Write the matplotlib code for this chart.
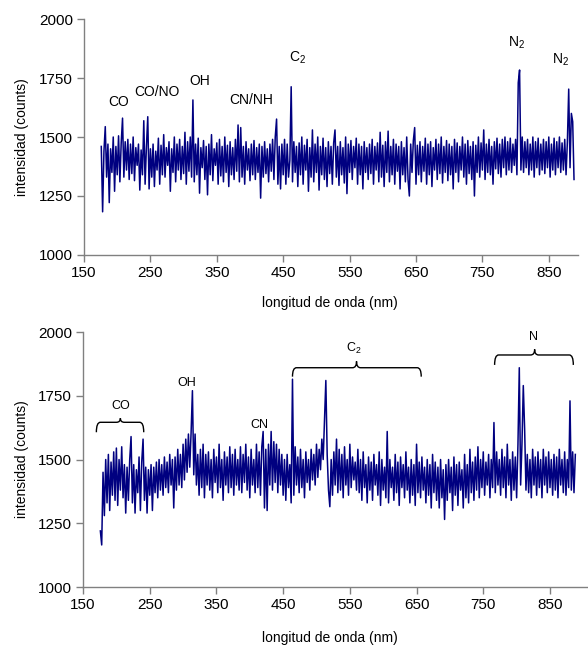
import numpy as np
import matplotlib
matplotlib.use("Agg")
import matplotlib.pyplot as plt
from matplotlib.path import Path
from matplotlib.patches import PathPatch

plt.rcParams['font.family'] = ['Liberation Sans', 'DejaVu Sans']
plt.rcParams['mathtext.fontset'] = 'custom'
plt.rcParams['mathtext.rm'] = 'Liberation Sans'
plt.rcParams['mathtext.it'] = 'Liberation Sans:italic'

# wavelength grid (nm), both spectra sampled every 2 nm
wl_start = 176
wl_step = 2

# spectrum 1 (top), counts
spec_top = [
    1460, 1183, 1440, 1544, 1330, 1470, 1222, 1450, 1350, 1500, 1270, 1460, 1340, 1505, 1310, 1475, 1580, 1330, 1480, 1360,
    1490, 1320, 1470, 1345, 1500, 1315, 1455, 1380, 1470, 1275, 1445, 1340, 1569, 1300, 1460, 1586, 1280, 1450, 1330, 1470,
    1290, 1440, 1360, 1495, 1300, 1465, 1340, 1510, 1330, 1455, 1380, 1480, 1270, 1450, 1350, 1500, 1310, 1470, 1360, 1490,
    1320, 1460, 1345, 1520, 1300, 1480, 1355, 1500, 1330, 1657, 1310, 1470, 1340, 1495, 1262, 1455, 1370, 1485, 1320, 1460,
    1255, 1470, 1340, 1510, 1315, 1450, 1380, 1475, 1300, 1490, 1335, 1460, 1310, 1500, 1350, 1465, 1290, 1480, 1340, 1455,
    1320, 1490, 1355, 1551, 1310, 1540, 1330, 1460, 1300, 1480, 1360, 1450, 1315, 1470, 1340, 1485, 1320, 1455, 1350, 1470,
    1241, 1460, 1330, 1480, 1345, 1450, 1310, 1470, 1355, 1490, 1320, 1500, 1576, 1300, 1460, 1280, 1470, 1340, 1490, 1300,
    1470, 1330, 1400, 1713, 1310, 1480, 1350, 1460, 1290, 1475, 1340, 1500, 1300, 1465, 1360, 1490, 1270, 1455, 1330, 1530,
    1310, 1470, 1350, 1500, 1275, 1460, 1340, 1495, 1320, 1455, 1290, 1480, 1345, 1460, 1300, 1475, 1530, 1330, 1460, 1295,
    1480, 1340, 1455, 1305, 1500, 1260, 1470, 1350, 1485, 1320, 1460, 1370, 1495, 1300, 1470, 1340, 1460, 1280, 1480, 1350,
    1455, 1320, 1470, 1345, 1490, 1300, 1460, 1360, 1475, 1310, 1520, 1330, 1465, 1290, 1480, 1350, 1525, 1310, 1460, 1340,
    1490, 1300, 1470, 1355, 1460, 1280, 1480, 1340, 1455, 1310, 1500, 1320, 1250, 1470, 1350, 1485, 1540, 1300, 1465, 1340,
    1480, 1310, 1460, 1355, 1495, 1300, 1470, 1340, 1480, 1290, 1455, 1360, 1490, 1320, 1470, 1345, 1500, 1305, 1460, 1350,
    1485, 1315, 1470, 1340, 1460, 1280, 1490, 1350, 1475, 1310, 1460, 1360, 1500, 1330, 1470, 1300, 1485, 1345, 1460, 1320,
    1480, 1250, 1465, 1350, 1500, 1330, 1475, 1360, 1530, 1320, 1470, 1350, 1490, 1340, 1460, 1300, 1480, 1365, 1495, 1345,
    1470, 1330, 1490, 1370, 1500, 1340, 1480, 1360, 1495, 1350, 1470, 1380, 1490, 1340, 1730, 1784, 1360, 1500, 1350, 1480,
    1370, 1490, 1340, 1470, 1360, 1500, 1330, 1480, 1370, 1495, 1340, 1470, 1360, 1490, 1345, 1480, 1370, 1500, 1330, 1470,
    1360, 1495, 1340, 1480, 1370, 1500, 1350, 1475, 1360, 1490, 1340, 1480, 1703, 1370, 1600, 1565, 1320,
]

# spectrum 2 (bottom), counts
spec_bot = [
    1220, 1165, 1450, 1280, 1500, 1330, 1520, 1300, 1490, 1360, 1530, 1340, 1545, 1320, 1500, 1380, 1550, 1350, 1480, 1290,
    1470, 1340, 1500, 1590, 1330, 1480, 1290, 1460, 1370, 1510, 1300, 1490, 1580, 1340, 1470, 1290, 1460, 1360, 1480, 1300,
    1470, 1370, 1490, 1350, 1500, 1380, 1480, 1360, 1510, 1390, 1490, 1370, 1520, 1400, 1500, 1310, 1510, 1380, 1540, 1400,
    1520, 1390, 1560, 1420, 1580, 1450, 1600, 1470, 1605, 1770, 1440, 1600, 1400, 1520, 1360, 1540, 1390, 1560, 1350, 1520,
    1400, 1530, 1380, 1500, 1350, 1540, 1410, 1510, 1370, 1560, 1390, 1500, 1340, 1530, 1400, 1510, 1370, 1550, 1390, 1520,
    1360, 1540, 1400, 1500, 1380, 1550, 1370, 1520, 1410, 1560, 1380, 1510, 1350, 1540, 1400, 1500, 1370, 1560, 1390, 1530,
    1360, 1550, 1610, 1310, 1540, 1300, 1560, 1400, 1610, 1380, 1570, 1410, 1560, 1370, 1540, 1400, 1520, 1360, 1500, 1340,
    1520, 1390, 1480, 1330, 1815, 1360, 1550, 1400, 1510, 1370, 1540, 1390, 1500, 1350, 1530, 1410, 1500, 1380, 1540, 1420,
    1520, 1400, 1560, 1430, 1540, 1460, 1580, 1500, 1655, 1810, 1520, 1380, 1315, 1500, 1360, 1530, 1400, 1580, 1370, 1540,
    1380, 1520, 1350, 1550, 1400, 1500, 1360, 1560, 1390, 1510, 1420, 1490, 1380, 1540, 1370, 1500, 1340, 1530, 1390, 1480,
    1330, 1510, 1380, 1490, 1340, 1520, 1400, 1480, 1360, 1530, 1320, 1500, 1380, 1470, 1350, 1610, 1330, 1500, 1390, 1470,
    1340, 1520, 1370, 1490, 1320, 1510, 1390, 1480, 1350, 1530, 1380, 1470, 1330, 1500, 1360, 1480, 1320, 1560, 1370, 1490,
    1350, 1510, 1380, 1470, 1330, 1500, 1360, 1480, 1310, 1520, 1370, 1490, 1340, 1470, 1310, 1500, 1350, 1460, 1265, 1480,
    1340, 1500, 1370, 1470, 1300, 1510, 1360, 1480, 1320, 1490, 1380, 1460, 1310, 1520, 1350, 1480, 1330, 1540, 1370, 1490,
    1340, 1510, 1380, 1550, 1350, 1500, 1390, 1530, 1360, 1490, 1400, 1520, 1350, 1500, 1390, 1645, 1370, 1530, 1400, 1500,
    1360, 1540, 1390, 1510, 1350, 1560, 1400, 1500, 1340, 1530, 1380, 1510, 1350, 1560, 1860, 1400, 1560, 1790, 1620, 1380,
    1520, 1370, 1500, 1350, 1540, 1400, 1510, 1360, 1530, 1390, 1500, 1350, 1540, 1400, 1510, 1370, 1530, 1390, 1500, 1360,
    1520, 1380, 1510, 1350, 1540, 1400, 1500, 1370, 1530, 1360, 1500, 1390, 1730, 1380, 1530, 1370, 1520,
]

# band labels
top_labels = ['CO', 'CO/NO', 'OH', 'CN/NH', 'C$_2$', 'N$_2$', 'N$_2$']
top_label_x = [202, 260, 325, 402, 471, 802, 867]
top_label_y = [1650, 1692, 1737, 1657, 1836, 1901, 1829]

bot_labels = ['CO', 'OH', 'CN', 'C$_2$', 'N']
bot_label_x = [206, 305, 414, 556, 825]
bot_label_y = [1711, 1799, 1635, 1937, 1979]

# braces: start, end, middle, end height, line height, tip height
braces = [
    (170, 241, 206, 1607, 1646, 1662),
    (464, 657, 560, 1825, 1860, 1885),
    (767, 885, 827, 1871, 1910, 1932),
]

line_color = '#000080'
axis_color = '#808080'


def brace(ax, x0, x1, xm, yend, yline, ytip, dx=6):
    verts = [(x0, yend), (x0, yline), (x0 + dx, yline),
             (xm - dx, yline), (xm, yline), (xm, ytip),
             (xm, yline), (xm + dx, yline),
             (x1 - dx, yline), (x1, yline), (x1, yend)]
    codes = [Path.MOVETO, Path.CURVE3, Path.CURVE3,
             Path.LINETO, Path.CURVE3, Path.CURVE3,
             Path.CURVE3, Path.CURVE3,
             Path.LINETO, Path.CURVE3, Path.CURVE3]
    ax.add_patch(PathPatch(Path(verts, codes), fill=False, lw=1.0,
                           edgecolor='black', clip_on=False))


def style(ax, xmax):
    ax.set_xlim(150, xmax)
    ax.set_ylim(1000, 2000)
    ax.set_xticks([150, 250, 350, 450, 550, 650, 750, 850])
    ax.set_yticks([1000, 1250, 1500, 1750, 2000])
    for s in ['top', 'right']:
        ax.spines[s].set_visible(False)
    for s in ['left', 'bottom']:
        ax.spines[s].set_color(axis_color)
        ax.spines[s].set_linewidth(1.0)
    ax.tick_params(direction='out', length=5, width=1, color=axis_color,
                   labelsize=11, labelcolor='black', pad=3)
    ax.set_xlabel('longitud de onda (nm)', fontsize=10, va='center')
    ax.set_ylabel('intensidad (counts)', fontsize=10, va='center')


fig = plt.figure(figsize=(5.88, 6.49), dpi=100)

wl_top = wl_start + wl_step * np.arange(len(spec_top))
wl_bot = wl_start + wl_step * np.arange(len(spec_bot))

ax1 = fig.add_axes([0.1429, 0.6071, 0.8401, 0.3636])
ax1.plot(wl_top, spec_top, color=line_color, lw=1.1)
style(ax1, 894)
ax1.xaxis.set_label_coords(0.498, -0.203)
ax1.yaxis.set_label_coords(-0.1255, 0.5)
for t, x, y in zip(top_labels, top_label_x, top_label_y):
    ax1.text(x, y, t, fontsize=10, ha='center', va='center')

ax2 = fig.add_axes([0.1412, 0.0955, 0.8588, 0.3929])
ax2.plot(wl_bot, spec_bot, color=line_color, lw=1.1)
style(ax2, 907)
ax2.xaxis.set_label_coords(0.489, -0.2)
ax2.yaxis.set_label_coords(-0.1208, 0.5)
for t, x, y in zip(bot_labels, bot_label_x, bot_label_y):
    ax2.text(x, y, t, fontsize=9, ha='center', va='center', clip_on=False)
for b in braces:
    brace(ax2, *b)

fig.savefig('out.png', dpi=100)
